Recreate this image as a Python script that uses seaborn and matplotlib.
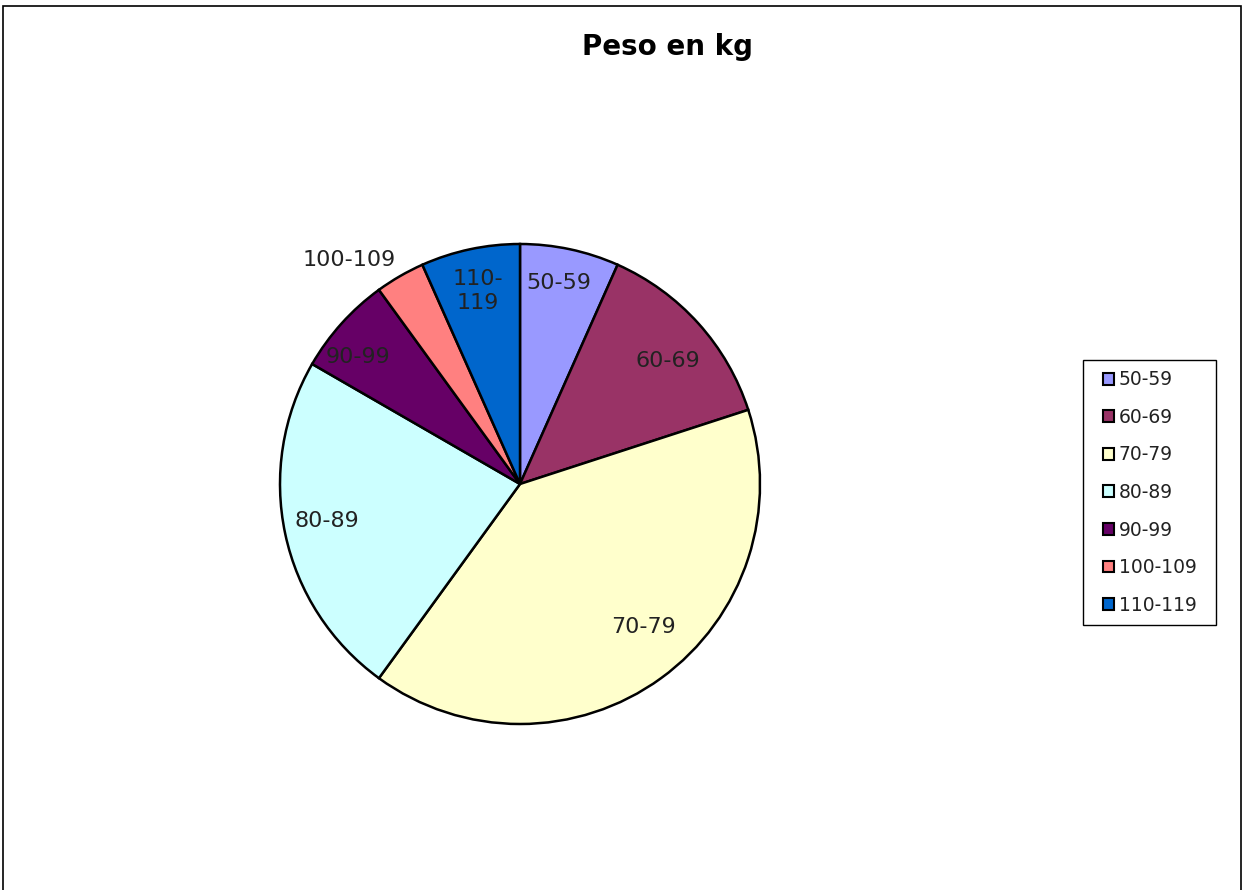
import matplotlib
matplotlib.use("Agg")
import matplotlib.pyplot as plt
from matplotlib.patches import Patch, Rectangle
import numpy as np
import seaborn as sns

categories = ["50-59", "60-69", "70-79", "80-89", "90-99", "100-109", "110-119"]
values = [2, 4, 12, 7, 2, 1, 2]
colors = ["#9999FF", "#993366", "#FFFFCC", "#CCFFFF", "#660066", "#FF8080", "#0066CC"]
pie_labels = ["50-59", "60-69", "70-79", "80-89", "90-99", "100-109", "110-\n119"]
title = "Peso en kg"

# label layout (distance from centre in radii, angle clockwise from 12 o'clock)
label_r = [0.853, 0.802, 0.789, 0.819, 0.858, 1.174, 0.823]
label_ang = [11.0, 50.3, 139.1, 259.1, 308.1, 322.7, 347.7]

sns.set_theme(style="white")
plt.rcParams["font.family"] = ["DejaVu Sans"]

W, H = 1245, 890
fig = plt.figure(figsize=(W / 100, H / 100), dpi=100)
fig.patch.set_facecolor("white")

cx, cy, R = 520, 484, 240
ax = fig.add_axes([(cx - R) / W, (H - cy - R) / H, 2 * R / W, 2 * R / H])
wedges, texts = ax.pie(
    values, colors=colors, labels=pie_labels, startangle=90, counterclock=False,
    radius=1, labeldistance=0.82,
    wedgeprops=dict(edgecolor="black", linewidth=1.8),
    textprops=dict(fontsize=16, color="#222222"),
)
for t, r, a in zip(texts, label_r, label_ang):
    t.set_ha("center")
    t.set_va("center")
    t.set_linespacing(1.25)
    th = np.deg2rad(90 - a)
    t.set_position((r * np.cos(th), r * np.sin(th)))
ax.set_xlim(-1, 1)
ax.set_ylim(-1, 1)
ax.set_aspect("equal")
ax.axis("off")

fig.text(667 / W, 1 - 47 / H, title, ha="center", va="center", fontsize=20,
         fontweight="bold", color="black")

handles = [Patch(facecolor=c, edgecolor="black", linewidth=1.5) for c in colors]
leg = fig.legend(
    handles, categories, loc="center", bbox_to_anchor=(1149.5 / W, 1 - 492.5 / H),
    fontsize=13.5, frameon=False, handlelength=0.6, handleheight=0.6,
    handletextpad=0.25, labelspacing=0.99, borderpad=0.0, borderaxespad=0,
)
for t in leg.get_texts():
    t.set_color("#222222")

fig.canvas.draw()
bb = leg.get_window_extent()
padx, pady = 20, 10
fig.patches.append(Rectangle(((bb.x0 - padx) / W, (bb.y0 - pady) / H),
                             (bb.width + 2 * padx) / W, (bb.height + 2 * pady) / H,
                             transform=fig.transFigure, fill=False, edgecolor="black",
                             linewidth=1.0))

fig.patches.append(Rectangle((3 / W, -0.05), 1238 / W, 1.05 - 6 / H, transform=fig.transFigure,
                             fill=False, edgecolor="black", linewidth=1.2))

fig.savefig("out.png", dpi=100)
